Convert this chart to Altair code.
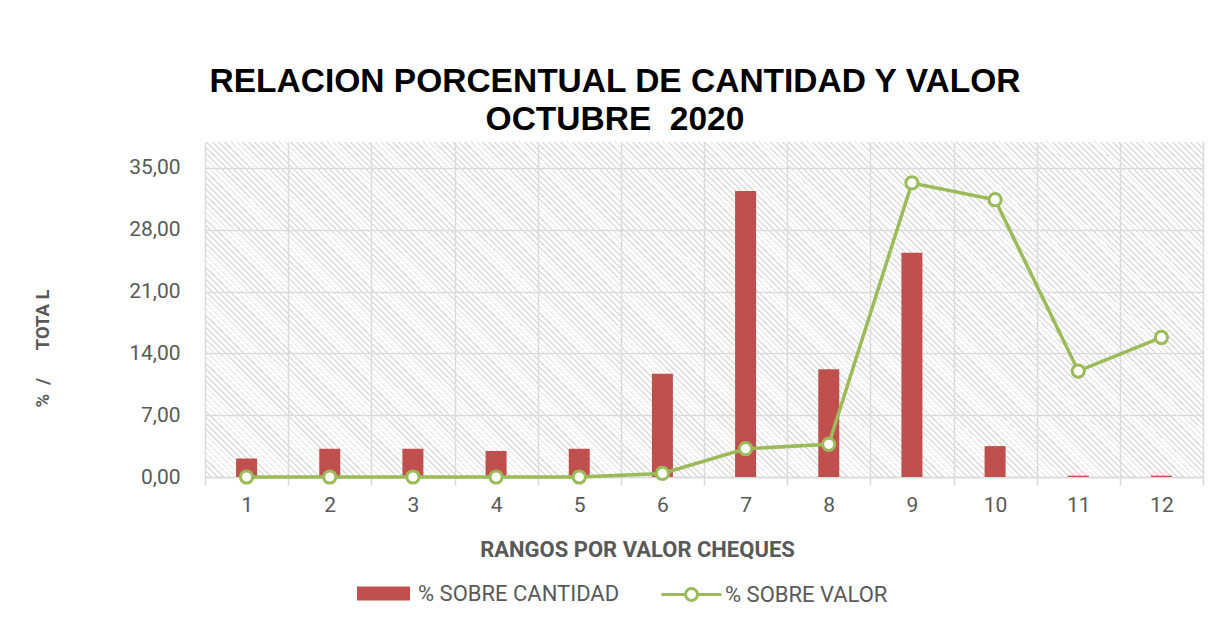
import math
import altair as alt
import pandas as pd

# ---- data ----
rangos = list(range(1, 13))
pct_cantidad = [2.1, 3.2, 3.2, 2.95, 3.2, 11.7, 32.4, 12.2, 25.4, 3.5, 0.15, 0.15]
pct_valor = [0.0, 0.0, 0.0, 0.0, 0.0, 0.4, 3.2, 3.7, 33.3, 31.4, 12.0, 15.8]
y_ticks = [0, 7, 14, 21, 28, 35]
serie_cantidad = "% SOBRE CANTIDAD"
serie_valor = "% SOBRE VALOR"

W, H = 998, 335
YMAX = 37.94

df = pd.DataFrame({
    "rango": rangos,
    "cantidad": pct_cantidad,
    "valor": pct_valor,
    "s1": serie_cantidad,
    "s2": serie_valor,
})

# ---- diagonal hatch background as a striped linear gradient ----
r = H / W
k = (1 + r) / (1 + r * r)
L = (W + H) / math.sqrt(2)
period = (6 / math.sqrt(2)) / L
stripe = "#dedede"
clear = "rgba(255,255,255,0)"
stops = []
i = 0
while i * period < 1:
    a = round(i * period, 6)
    b = round(min(i * period + 0.3 * period, 1), 6)
    stops += [
        {"color": clear, "offset": a},
        {"color": stripe, "offset": a},
        {"color": stripe, "offset": b},
        {"color": clear, "offset": b},
    ]
    i += 1
hatch_fill = {
    "gradient": "linear",
    "x1": 0, "y1": 1,
    "x2": round(k, 6), "y2": round(1 - k * r, 6),
    "stops": stops,
}

GRID = "#d9d9d9"
TXT = "#595959"
FONT = "Roboto"
NB = "\u00a0"

hatch = alt.Chart(pd.DataFrame({"z": [0]})).mark_rect(
    fill=hatch_fill, strokeWidth=0
).encode(
    x=alt.value(0), x2=alt.value(W), y=alt.value(0), y2=alt.value(H)
)

base = alt.Chart(df)

x_axis = alt.Axis(
    tickBand="extent", grid=True, gridColor=GRID, gridWidth=1.5,
    domainColor=GRID, domainWidth=1.5, tickColor=GRID, tickWidth=1.5,
    tickSize=8, labelAngle=0, labelPadding=9, labelFont=FONT,
    labelFontSize=21, labelColor=TXT,
    title="RANGOS POR VALOR CHEQUES", titleFont=FONT, titleFontSize=22,
    titleFontWeight="bold", titleColor=TXT, titleX=432, titleY=62,
    titleAlign="center", titleBaseline="top",
)
y_axis = alt.Axis(
    values=y_ticks,
    labelExpr="replace(format(datum.value, '.2f'), '.', ',')",
    grid=True, gridColor=GRID, gridWidth=1.5, domain=False, ticks=False,
    tickSize=0, labelPadding=25, labelFont=FONT, labelFontSize=21,
    labelColor=TXT,
    title="%" + NB * 2 + "/" + NB * 6 + "TOTA" + NB + "L",
    titleFont=FONT, titleFontSize=18.5, titleFontWeight="bold",
    titleColor=TXT, titleX=-163, titleY=206, titleAlign="center",
    titleBaseline="middle", titleAngle=270,
)
x_scale = alt.Scale(paddingInner=0, paddingOuter=0)
y_scale = alt.Scale(domain=[0, YMAX], nice=False, zero=True)

bars = base.mark_bar(size=21).encode(
    x=alt.X("rango:O", axis=x_axis, scale=x_scale),
    y=alt.Y("cantidad:Q", axis=y_axis, scale=y_scale),
    color=alt.Color(
        "s1:N",
        scale=alt.Scale(range=["#C0504D"]),
        legend=alt.Legend(
            orient="none", legendX=152, legendY=425, title=None,
            symbolType="M-1,-0.264L1,-0.264L1,0.264L-1,0.264Z",
            symbolSize=2809, symbolStrokeWidth=0, labelFont=FONT,
            labelFontSize=22, labelColor=TXT, labelOffset=8, padding=0,
            labelLimit=0,
        ),
    ),
)

line = base.mark_line(color="#9BBB59", strokeWidth=3.5).encode(
    x=alt.X("rango:O"),
    y=alt.Y("valor:Q"),
)

points = base.mark_point(
    filled=False, fill="white", size=150, strokeWidth=3, opacity=1
).encode(
    x=alt.X("rango:O"),
    y=alt.Y("valor:Q"),
    color=alt.Color(
        "s2:N",
        scale=alt.Scale(range=["#9BBB59"]),
        legend=alt.Legend(
            orient="none", legendX=455, legendY=421, title=None,
            symbolType="M-1,0L-0.2,0M0.2,0L1,0M-0.2,0A0.2,0.2,0,1,1,0.2,0A0.2,0.2,0,1,1,-0.2,0Z",
            symbolSize=3600, symbolStrokeWidth=3, symbolFillColor="white",
            labelFont=FONT, labelFontSize=22, labelColor=TXT,
            labelOffset=2, padding=0, labelLimit=0,
        ),
    ),
)

chart = alt.layer(hatch, bars, line, points).resolve_scale(
    color="independent"
).resolve_legend(
    color="independent"
).properties(
    width=W,
    height=H,
    title=alt.TitleParams(
        text=["RELACION PORCENTUAL DE CANTIDAD Y VALOR", "OCTUBRE" + NB * 2 + "2020"],
        font="Liberation Sans", fontSize=33.5, fontWeight="bold",
        color="black", anchor="middle", dx=-89, offset=5, lineHeight=38,
    ),
    autosize=alt.AutoSizeParams(type="none"),
    padding={"left": 197, "top": 134, "right": 8, "bottom": 135},
    background="white",
).configure_view(stroke=None)

chart.save("out.html", embed_options={"renderer": "svg", "actions": False})
